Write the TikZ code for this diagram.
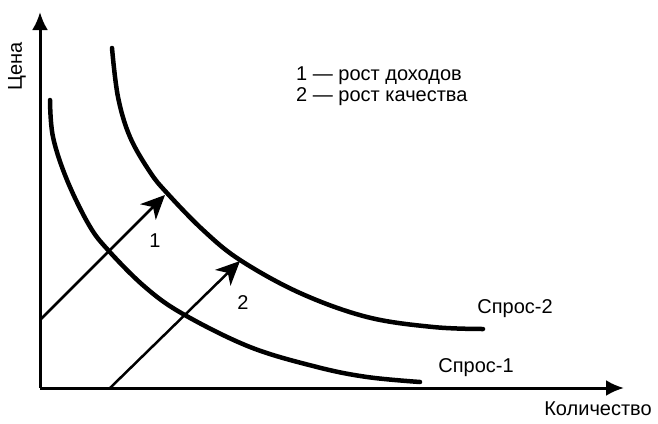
\documentclass[tikz,border=0pt]{standalone}
\usepackage{fontspec}
\setmainfont{Liberation Sans}
\usetikzlibrary{arrows.meta}
\tikzset{
  axis line/.style   = {-{Latex[length=18pt,width=16pt]}, line width=3pt},
  demand/.style      = {line width=4.5pt, line cap=round},
  shift arrow/.style = {-{Stealth[length=24pt,width=22pt,inset=7pt]}, line width=2.5pt},
  lbl/.style         = {font=\fontsize{20}{22}\selectfont, inner sep=0pt},
}
\begin{document}
\begin{tikzpicture}[x=1pt,y=-1pt]
  \useasboundingbox (0,0) rectangle (658,423);
  % axes
  \coordinate (O) at (40,388);
  \coordinate (ytip) at (40,12);
  \coordinate (xtip) at (624,388);
  \draw[axis line] (O) -- (ytip);
  \draw[axis line] (O) -- (xtip);
  \node[lbl,rotate=90] (ylab) at (17,66) {Цена};
  \node[lbl] (xlab) at (598,409) {Количество};

  % demand curves
  \draw[demand] plot[smooth,tension=0.6] coordinates {(50,100) (53,137) (67,180)
    (89,225) (108,250) (145,287) (183,314) (250,347) (317,367) (367,377) (420,382)};
  \draw[demand] plot[smooth,tension=0.6] coordinates {(112,48) (118,97) (130,137)
    (150,172) (167,193) (203,230) (240,260) (300,293) (367,317) (433,327) (483,329)};
  \node[lbl] (d1) at (476,368) {Спрос-1};
  \node[lbl] (d2) at (515,309) {Спрос-2};

  % shifts
  \coordinate (s1) at (40,320);
  \coordinate (e1) at (165,195);
  \coordinate (s2) at (110,388);
  \coordinate (e2) at (240,261);
  \draw[shift arrow] (s1) -- (e1);
  \draw[shift arrow] (s2) -- (e2);
  \node[lbl] (n1) at (155,241) {1};
  \node[lbl] (n2) at (243,303) {2};

  % legend
  \node[lbl,anchor=west] (leg1) at (296,76) {1 — рост доходов};
  \node[lbl,anchor=west] (leg2) at (296,97) {2 — рост качества};
\end{tikzpicture}
\end{document}
